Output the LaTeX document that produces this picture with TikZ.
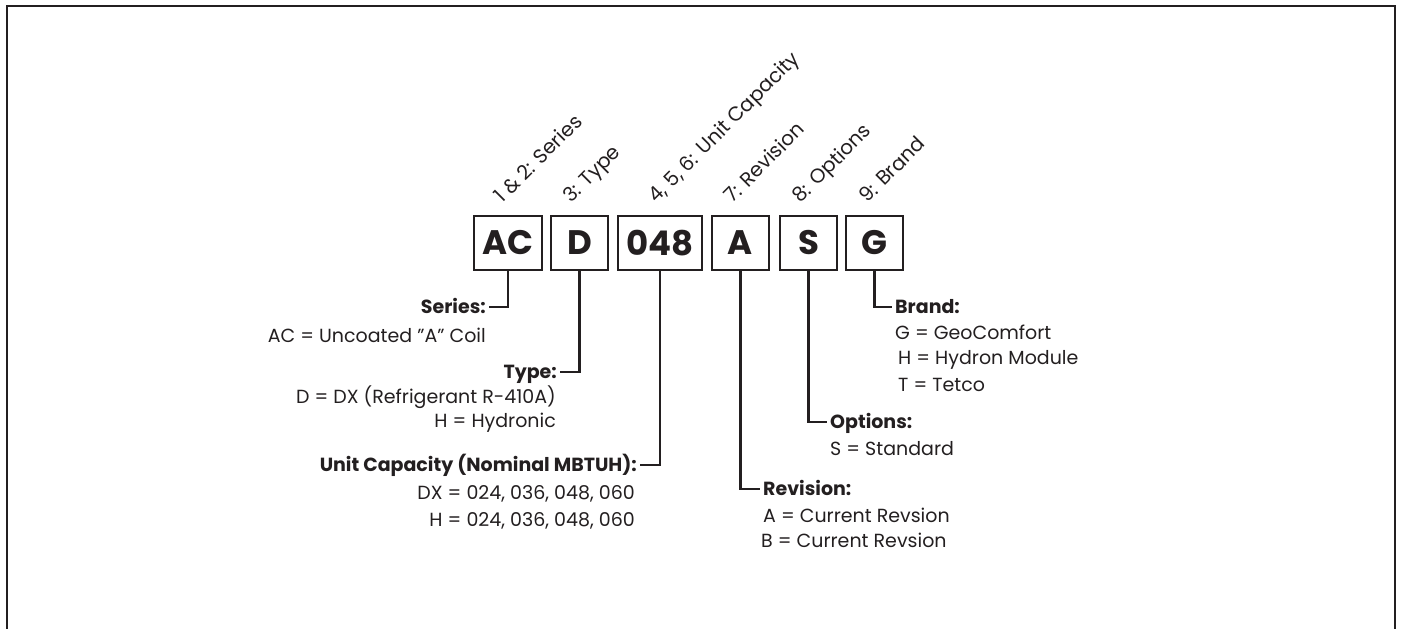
\documentclass[tikz,border=0pt]{standalone}
\usepackage{fontspec}
\setmainfont{Poppins}
\usetikzlibrary{positioning}
\usetikzlibrary{calc}
\definecolor{ink}{RGB}{35,31,32}

\begin{document}
\begin{tikzpicture}[x=1pt,y=-1pt,line width=2.4pt,draw=ink,text=ink]
\tikzset{
  code/.style={draw,minimum height=54,inner sep=0,font=\fontsize{34}{34}\selectfont\bfseries},
  poslbl/.style={rotate=45,anchor=base west,inner sep=0,font=\fontsize{20}{20}\selectfont},
  head/.style={inner sep=0,font=\fontsize{19}{19}\selectfont\bfseries},
  item/.style={inner sep=0,font=\fontsize{19}{19}\selectfont},
}
\useasboundingbox (0,0) rectangle (1403,629);
\draw[line width=2pt] (7,629) -- (7,6) -- (1395,6) -- (1395,629);
% the code boxes
\node[code,minimum width=68] (AC) at (508,243) {AC};
\node[code,minimum width=57] (D) at (579.5,243) {D};
\node[code,minimum width=84] (cap) at (660,243) {048};
\node[code,minimum width=57] (A) at (740.5,243) {A};
\node[code,minimum width=57] (S) at (808.5,243) {S};
\node[code,minimum width=57] (G) at (874.5,243) {G};
% positions above
\node[poslbl] (AClbl) at ($(AC.north)+(-6,-10)$) {1 \& 2: Series};
\node[poslbl] (Dlbl) at ($(D.north)+(-9,-10)$) {3: Type};
\node[poslbl] (caplbl) at ($(cap.north)+(-4,-10)$) {4, 5, 6: Unit Capacity};
\node[poslbl] (Albl) at ($(A.north)+(-9,-10)$) {7: Revision};
\node[poslbl] (Slbl) at ($(S.north)+(-9,-10)$) {8: Options};
\node[poslbl] (Glbl) at ($(G.north)+(-8,-10)$) {9: Brand};
% left side
\node[head,anchor=base east] (sertitle) at (487,313) {Series:};
\node[item,anchor=base east] (ser1) at (487,342) {AC = Uncoated "A" Coil};
\node[head,anchor=base east] (typtitle) at (558,378) {Type:};
\node[item,anchor=base east] (typ1) at (557,403) {D = DX (Refrigerant R-410A)};
\node[item,anchor=base east] (typ2) at (557,427) {H = Hydronic};
\node[head,anchor=base east] (captitle) at (638,471) {Unit Capacity (Nominal MBTUH):};
\node[item,anchor=base east] (cap1) at (636,499) {DX = 024, 036, 048, 060};
\node[item,anchor=base east] (cap2) at (636,526) {H = 024, 036, 048, 060};
% right side
\node[head,anchor=base west] (revtitle) at (762,495) {Revision:};
\node[item,anchor=base west] (rev1) at (762,522) {A = Current Revsion};
\node[item,anchor=base west] (rev2) at (760,547) {B = Current Revsion};
\node[head,anchor=base west] (opttitle) at (829,428) {Options:};
\node[item,anchor=base west] (opt1) at (829,455) {S = Standard};
\node[head,anchor=base west] (brtitle) at (894,313) {Brand:};
\node[item,anchor=base west] (br1) at (894,339) {G = GeoComfort};
\node[item,anchor=base west] (br2) at (897,364) {H = Hydron Module};
\node[item,anchor=base west] (br3) at (897,391) {T = Tetco};
% leaders
\draw (AC.south) |- ($(sertitle.base east)+(2,-6)$);
\draw (D.south) |- ($(typtitle.base east)+(2,-6)$);
\draw (cap.south) |- ($(captitle.base east)+(2,-6)$);
\draw (A.south) |- ($(revtitle.base west)+(-2,-6)$);
\draw (S.south) |- ($(opttitle.base west)+(-2,-6)$);
\draw (G.south) |- ($(brtitle.base west)+(-2,-6)$);
\end{tikzpicture}
\end{document}
